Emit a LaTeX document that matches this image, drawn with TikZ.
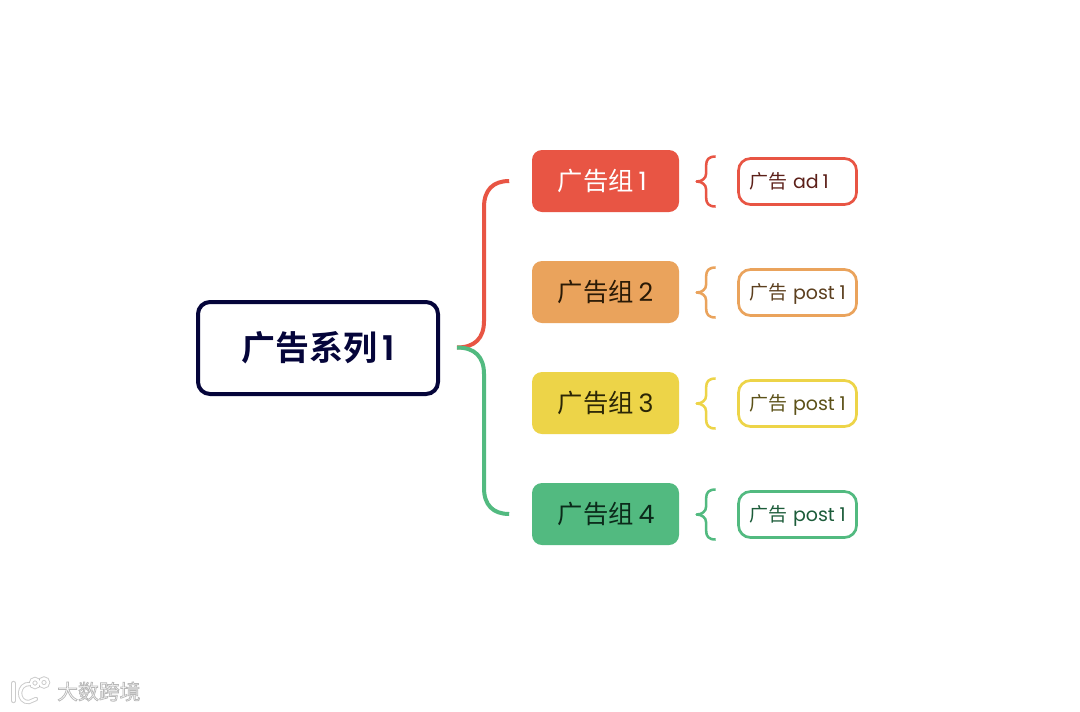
\documentclass[tikz,border=0pt]{standalone}
\usepackage{fontspec}
\setmainfont{Poppins}
\newfontfamily\cjk{Noto Sans CJK SC}
\newfontfamily\cjkb{Noto Sans CJK SC Bold}
\newfontfamily\latb{Poppins SemiBold}
\definecolor{navy}{HTML}{05053A}
\definecolor{cred}{HTML}{E85544}
\definecolor{corg}{HTML}{EAA35C}
\definecolor{cyel}{HTML}{EDD448}
\definecolor{cgrn}{HTML}{52BA80}
\definecolor{tred}{HTML}{5C2019}
\definecolor{torg}{HTML}{5C3F1E}
\definecolor{tyel}{HTML}{5C5118}
\definecolor{tgrn}{HTML}{1C5C3A}
\definecolor{dorg}{HTML}{2A1A06}
\definecolor{dyel}{HTML}{2B2606}
\definecolor{dgrn}{HTML}{0B2A1A}
\tikzset{
  x=0.75pt,y=-0.75pt,
  mainbox/.style={draw=navy,line width=3pt,rounded corners=9pt,fill=white,minimum width=180pt,minimum height=69pt,inner sep=0pt,text=navy,font=\fontsize{25.5pt}{28pt}\selectfont},
  groupbox/.style={rounded corners=7.5pt,minimum width=110.25pt,minimum height=46.5pt,inner sep=0pt,font=\fontsize{19pt}{22pt}\selectfont},
  adbox/.style={draw=#1,line width=2pt,rounded corners=9pt,fill=white,minimum width=88.5pt,minimum height=34.5pt,inner sep=0pt,text height=12pt,text depth=1.5pt,font=\fontsize{14.25pt}{17pt}\selectfont},
  trunk/.style={draw=#1,line width=3pt},
  brace/.style={draw=#1,line width=1.9pt,line join=round},
  wmshadow/.style={draw=black!40,line width=3.2pt,opacity=.5,line cap=round},
  wmline/.style={draw=white,line width=1.8pt,line cap=round},
}
\newcommand{\grp}[1]{{\cjk 广告组}\hspace{3.5pt}\makebox[11pt][l]{#1}}
\newcommand{\adt}[1]{\makebox[72.75pt][l]{{\cjk 广告}\hspace{4.5pt}#1}}
\newcommand{\wmtext}{{\cjk\fontsize{15.6pt}{18pt}\selectfont\special{pdf:code q 2 Tr 1 1 1 rg 0.72 0.72 0.72 RG 0.55 w}大数跨境\special{pdf:code Q}}}
\begin{document}
\begin{tikzpicture}
\useasboundingbox (0,0) rectangle (1080,711);
\fill[white] (0,0) rectangle (1080,711);

% main node
\node[mainbox] (m) at (318,348) {{\cjkb 广告系列}\hspace{4pt}{\latb 1}};

% group nodes
\node[groupbox,fill=cred,text=white] (g1) at (605.5,181) {\grp{1}};
\node[groupbox,fill=corg,text=dorg] (g2) at (605.5,292) {\grp{2}};
\node[groupbox,fill=cyel,text=dyel] (g3) at (605.5,403) {\grp{3}};
\node[groupbox,fill=cgrn,text=dgrn] (g4) at (605.5,514) {\grp{4}};

% ad nodes
\node[adbox=cred,text=tred] (a1) at (797.5,181.5) {\adt{ad\hspace{3pt}1}};
\node[adbox=corg,text=torg] (a2) at (797.5,292.5) {\adt{post\hspace{3.5pt}1}};
\node[adbox=cyel,text=tyel] (a3) at (797.5,403.5) {\adt{post\hspace{3.5pt}1}};
\node[adbox=cgrn,text=tgrn] (a4) at (797.5,514.5) {\adt{post\hspace{3.5pt}1}};

% trunk connectors
\coordinate (j) at (457,347.5);
\foreach \g in {1,...,4}{\coordinate (e\g) at ([xshift=-16.9pt]g\g.west);}
\draw[trunk=cred] (j) .. controls (475,347.5) and (484,338) .. (484,321)
  -- (484,207) .. controls (484,190) and (493,181) .. (e1);
\draw[trunk=cgrn] (j) .. controls (475,347.5) and (484,357) .. (484,374)
  -- (484,488) .. controls (484,505) and (493,514) .. (e4);

% small braces
\foreach \a/\c in {1/cred,2/corg,3/cyel,4/cgrn}{
  \coordinate (t\a) at ([xshift=-30.4pt]a\a.west);
  \draw[brace=\c] ([shift={(19,-25)}]t\a) .. controls ([shift={(12,-25)}]t\a) and ([shift={(9.5,-22)}]t\a) .. ([shift={(9.5,-16)}]t\a)
     -- ([shift={(9.5,-8)}]t\a) .. controls ([shift={(9.5,-3)}]t\a) and ([shift={(5,0)}]t\a) .. (t\a)
     .. controls ([shift={(5,0)}]t\a) and ([shift={(9.5,3)}]t\a) .. ([shift={(9.5,8)}]t\a)
     -- ([shift={(9.5,16)}]t\a) .. controls ([shift={(9.5,22)}]t\a) and ([shift={(12,25)}]t\a) .. ([shift={(19,25)}]t\a);
}

% watermark
\node[anchor=west,inner sep=0pt] (w) at (57,691.5) {\wmtext};
\foreach \s in {wmshadow,wmline}{
  \draw[\s] (13.5,683) -- (13.5,701);
  \draw[\s] (30,684) .. controls (17,683) and (17,703) .. (29,702) -- (36,699);
  \draw[\s] (35,683) circle (4);
  \draw[\s] (44,682.5) circle (4);
}
\end{tikzpicture}
\end{document}
